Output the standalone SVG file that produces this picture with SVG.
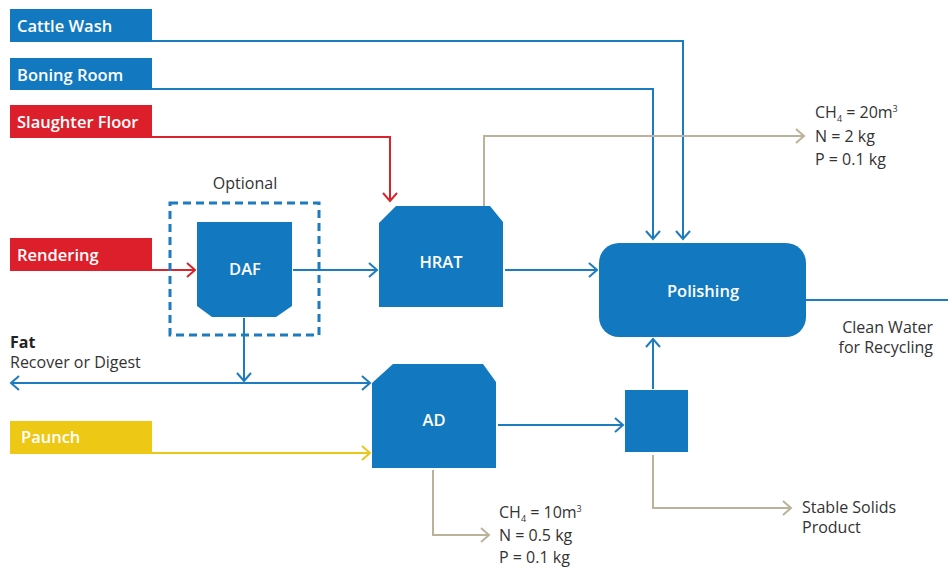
<svg xmlns="http://www.w3.org/2000/svg" width="948" height="569" viewBox="0 0 948 569">
<defs>
<style>
.lbl{font-family:"Open Sans","Noto Sans",sans-serif;font-size:16.5px;font-weight:600;fill:#ffffff}
.node{fill:#1278bf}
.txt{font-family:"Open Sans","Noto Sans",sans-serif;font-size:16px;fill:#333333}
.c{fill:none;stroke-width:2}
.b{stroke:#1d7bbf}
.r{stroke:#d9232d}
.y{stroke:#e9c71b}
.g{stroke:#bcb29c}
</style>
<marker id="ab" markerUnits="userSpaceOnUse" markerWidth="12" markerHeight="16" viewBox="0 0 12 16" refX="10" refY="8" orient="auto-start-reverse"><path d="M2,1 L10,8 L2,15" fill="none" stroke="#1d7bbf" stroke-width="2"/></marker>
<marker id="ar" markerUnits="userSpaceOnUse" markerWidth="12" markerHeight="16" viewBox="0 0 12 16" refX="10" refY="8" orient="auto"><path d="M2,1 L10,8 L2,15" fill="none" stroke="#d9232d" stroke-width="2"/></marker>
<marker id="ay" markerUnits="userSpaceOnUse" markerWidth="12" markerHeight="16" viewBox="0 0 12 16" refX="10" refY="8" orient="auto"><path d="M2,1 L10,8 L2,15" fill="none" stroke="#e9c71b" stroke-width="2"/></marker>
<marker id="ag" markerUnits="userSpaceOnUse" markerWidth="12" markerHeight="16" viewBox="0 0 12 16" refX="10" refY="8" orient="auto"><path d="M2,1 L10,8 L2,15" fill="none" stroke="#bcb29c" stroke-width="2"/></marker>
</defs>
<rect width="948" height="569" fill="#ffffff"/>

<g id="connectors">
<path class="c b" d="M152,41 H683 V239" marker-end="url(#ab)"/>
<path class="c b" d="M152,89 H653 V239" marker-end="url(#ab)"/>
<path class="c r" d="M152,137 H390 V201" marker-end="url(#ar)"/>
<path class="c r" d="M152,270 H195" marker-end="url(#ar)"/>
<path class="c b" d="M293,270 H377" marker-end="url(#ab)"/>
<path class="c b" d="M505,270 H597" marker-end="url(#ab)"/>
<path class="c g" d="M484,206 V136 H804" marker-end="url(#ag)"/>
<path class="c b" d="M806,300 H948"/>
<path class="c b" d="M244,318 V381" marker-end="url(#ab)"/>
<path class="c b" d="M11,383 H370" marker-start="url(#ab)" marker-end="url(#ab)"/>
<path class="c y" d="M152,453 H370" marker-end="url(#ay)"/>
<path class="c b" d="M498,425 H623" marker-end="url(#ab)"/>
<path class="c b" d="M653,389 V339" marker-end="url(#ab)"/>
<path class="c g" d="M653,455 V508 H791" marker-end="url(#ag)"/>
<path class="c g" d="M433,470 V535 H489" marker-end="url(#ag)"/>
</g>

<g id="cattle-wash"><rect x="10" y="9" width="142" height="33" fill="#1278bf"/><text class="lbl" x="17" y="32">Cattle Wash</text></g>
<g id="boning-room"><rect x="10" y="58" width="142" height="32" fill="#1278bf"/><text class="lbl" x="17" y="81">Boning Room</text></g>
<g id="slaughter-floor"><rect x="10" y="105" width="142" height="33" fill="#dc1f2a"/><text class="lbl" x="17" y="128">Slaughter Floor</text></g>
<g id="rendering"><rect x="10" y="238" width="142" height="33" fill="#dc1f2a"/><text class="lbl" x="17" y="261">Rendering</text></g>
<g id="paunch"><rect x="10" y="421" width="142" height="33" fill="#edc814"/><text class="lbl" x="21" y="443">Paunch</text></g>

<g id="optional">
<rect x="170" y="203" width="149" height="132" fill="none" stroke="#1d7bbf" stroke-width="3" stroke-dasharray="8,5"/>
<text class="txt" x="245" y="189" text-anchor="middle">Optional</text>
</g>
<g id="daf"><polygon class="node" points="197,222 292,222 292,306 276,317 212,317 197,306"/><text class="lbl" x="245" y="275" text-anchor="middle">DAF</text></g>
<g id="hrat"><polygon class="node" points="379,223 396,206 490,206 503,222 503,307 379,307"/><text class="lbl" x="441" y="268" text-anchor="middle">HRAT</text></g>
<g id="polishing"><rect class="node" x="599" y="243" width="207" height="94" rx="20"/><text class="lbl" x="703" y="297" text-anchor="middle">Polishing</text></g>
<g id="ad"><polygon class="node" points="372,383 393,364 483,364 496,382 496,468 372,468"/><text class="lbl" x="434" y="426" text-anchor="middle">AD</text></g>
<g id="solids-sep"><rect class="node" x="625" y="390" width="63" height="62"/></g>

<g id="labels">
<text class="txt" x="10" y="348" style="font-weight:700;fill:#222">Fat</text>
<text class="txt" x="10" y="368">Recover or Digest</text>
<text class="txt" x="933" y="333" text-anchor="end">Clean Water</text>
<text class="txt" x="933" y="353" text-anchor="end">for Recycling</text>
<text class="txt" x="802" y="513">Stable Solids</text>
<text class="txt" x="802" y="533">Product</text>
<text class="txt" x="815" y="118">CH<tspan font-size="9" dy="4">4</tspan><tspan dy="-4"> = 20m</tspan><tspan font-size="9" dy="-6">3</tspan></text>
<text class="txt" x="815" y="142">N = 2 kg</text>
<text class="txt" x="815" y="165">P = 0.1 kg</text>
<text class="txt" x="499" y="518">CH<tspan font-size="9" dy="4">4</tspan><tspan dy="-4"> = 10m</tspan><tspan font-size="9" dy="-6">3</tspan></text>
<text class="txt" x="499" y="541">N = 0.5 kg</text>
<text class="txt" x="499" y="563">P = 0.1 kg</text>
</g>
</svg>
